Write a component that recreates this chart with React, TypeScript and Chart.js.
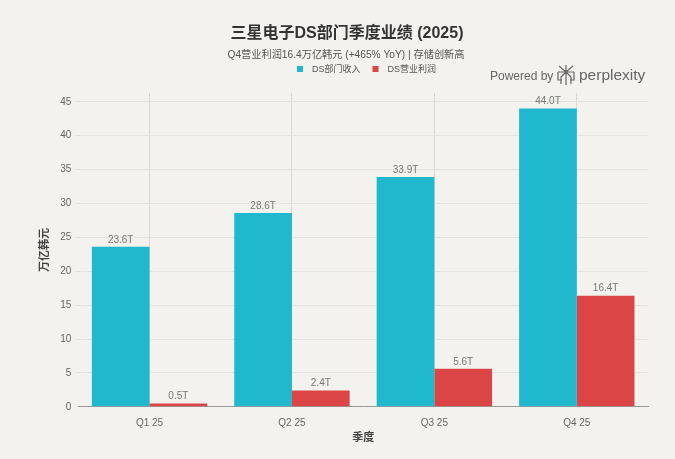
import React, { useEffect, useRef } from "react";
import { Chart, registerables } from "chart.js";

Chart.register(...registerables);

const categories = ["Q1 25", "Q2 25", "Q3 25", "Q4 25"];
const revenue = [23.6, 28.6, 33.9, 44.0];
const profit = [0.5, 2.4, 5.6, 16.4];
const seriesNames = ["DS部门收入", "DS营业利润"];
const colors = ["#1FB8CD", "#DB4545"];
const titleText = "三星电子DS部门季度业绩 (2025)";
const subtitleText = "Q4营业利润16.4万亿韩元 (+465% YoY) | 存储创新高";
const yTitle = "万亿韩元";
const xTitle = "季度";

const FONT = "'Liberation Sans', 'Noto Sans CJK SC', sans-serif";
const BG = "#F3F2EE";

const headerPlugin = {
  id: "header",
  afterDraw(chart: any) {
    const ctx = chart.ctx as CanvasRenderingContext2D;
    ctx.save();
    // title
    ctx.textAlign = "center";
    ctx.textBaseline = "middle";
    ctx.fillStyle = "#333333";
    ctx.font = `bold 16px ${FONT}`;
    ctx.fillText(titleText, 347, 34);
    ctx.fillStyle = "#555555";
    ctx.font = `10.2px ${FONT}`;
    ctx.fillText(subtitleText, 346, 55);
    // legend
    ctx.font = `9px ${FONT}`;
    ctx.textAlign = "left";
    let x = 297;
    const y = 69;
    seriesNames.forEach((name, i) => {
      ctx.fillStyle = colors[i];
      ctx.fillRect(x, y - 3, 6, 6);
      ctx.fillStyle = "#555555";
      ctx.fillText(name, x + 15, y + 0.5);
      x += 15 + ctx.measureText(name).width + 12;
    });
    // Powered by perplexity
    ctx.textBaseline = "alphabetic";
    ctx.fillStyle = "#666666";
    ctx.font = `12px ${FONT}`;
    ctx.fillText("Powered by", 490, 80);
    // icon
    const cx = 566, cy = 75;
    ctx.strokeStyle = "#666666";
    ctx.lineWidth = 1.2;
    ctx.beginPath();
    ctx.moveTo(cx, cy - 10); ctx.lineTo(cx, cy + 10);
    ctx.moveTo(cx - 7, cy - 9); ctx.lineTo(cx, cy - 3); ctx.lineTo(cx + 7, cy - 9);
    ctx.moveTo(cx - 8, cy - 3); ctx.lineTo(cx + 8, cy - 3);
    ctx.moveTo(cx - 8, cy - 3); ctx.lineTo(cx - 8, cy + 5); ctx.lineTo(cx - 4, cy + 5);
    ctx.moveTo(cx + 8, cy - 3); ctx.lineTo(cx + 8, cy + 5); ctx.lineTo(cx + 4, cy + 5);
    ctx.moveTo(cx, cy - 3); ctx.lineTo(cx - 5, cy + 2); ctx.lineTo(cx - 5, cy + 9);
    ctx.moveTo(cx, cy - 3); ctx.lineTo(cx + 5, cy + 2); ctx.lineTo(cx + 5, cy + 9);
    ctx.stroke();
    ctx.font = `15.5px ${FONT}`;
    ctx.fillText("perplexity", 579, 80);
    ctx.restore();
  },
};

const labelPlugin = {
  id: "barLabels",
  afterDatasetsDraw(chart: any) {
    const ctx = chart.ctx as CanvasRenderingContext2D;
    ctx.save();
    ctx.font = `10px ${FONT}`;
    ctx.fillStyle = "#777777";
    ctx.textAlign = "center";
    ctx.textBaseline = "bottom";
    chart.data.datasets.forEach((ds: any, di: number) => {
      const meta = chart.getDatasetMeta(di);
      meta.data.forEach((el: any, i: number) => {
        ctx.fillText(`${Number(ds.data[i]).toFixed(1)}T`, el.x, el.y - 2);
      });
    });
    ctx.restore();
  },
};

const bgPlugin = {
  id: "bg",
  beforeDraw(chart: any) {
    const ctx = chart.ctx as CanvasRenderingContext2D;
    ctx.save();
    ctx.fillStyle = BG;
    ctx.fillRect(0, 0, chart.width, chart.height);
    ctx.restore();
  },
};

export default function App() {
  const ref = useRef<HTMLCanvasElement>(null);
  useEffect(() => {
    document.body.style.margin = "0";
    const chart = new Chart(ref.current!, {
      type: "bar",
      data: {
        labels: categories,
        datasets: [
          { label: seriesNames[0], data: revenue, backgroundColor: colors[0], categoryPercentage: 0.81, barPercentage: 1.0 },
          { label: seriesNames[1], data: profit, backgroundColor: colors[1], categoryPercentage: 0.81, barPercentage: 1.0 },
        ],
      },
      options: {
        animation: false,
        responsive: false,
        layout: { padding: { top: 93, right: 27, bottom: 10, left: 38 } },
        plugins: {
          legend: { display: false },
          title: { display: false },
          tooltip: { enabled: false },
        },
        scales: {
          x: {
            grid: { offset: false, color: "#D8D8D4", drawTicks: false, lineWidth: 1 },
            border: { display: true, color: "#9A9A9A", width: 1 },
            ticks: { color: "#666666", font: { family: FONT, size: 10 }, padding: 10 },
            title: { display: true, text: xTitle, color: "#444444", font: { family: FONT, size: 11, weight: "bold" }, padding: { top: -7, bottom: 4 } },
          },
          y: {
            min: 0,
            max: 46.3,
            grid: { color: "#E2E2DE", drawTicks: true, tickLength: 3, tickColor: "#E2E2DE" },
            border: { display: false },
            ticks: { stepSize: 5, includeBounds: false, color: "#666666", font: { family: FONT, size: 10 }, padding: 4 },
            title: { display: true, text: yTitle, color: "#444444", font: { family: FONT, size: 11, weight: "bold" }, padding: { top: 0, bottom: 5 } },
          },
        },
      },
      plugins: [bgPlugin, labelPlugin, headerPlugin],
    });
    return () => chart.destroy();
  }, []);
  return (
    <div style={{ width: 675, height: 459, background: BG }}>
      <canvas ref={ref} width={675} height={459} style={{ display: "block" }} />
    </div>
  );
}
